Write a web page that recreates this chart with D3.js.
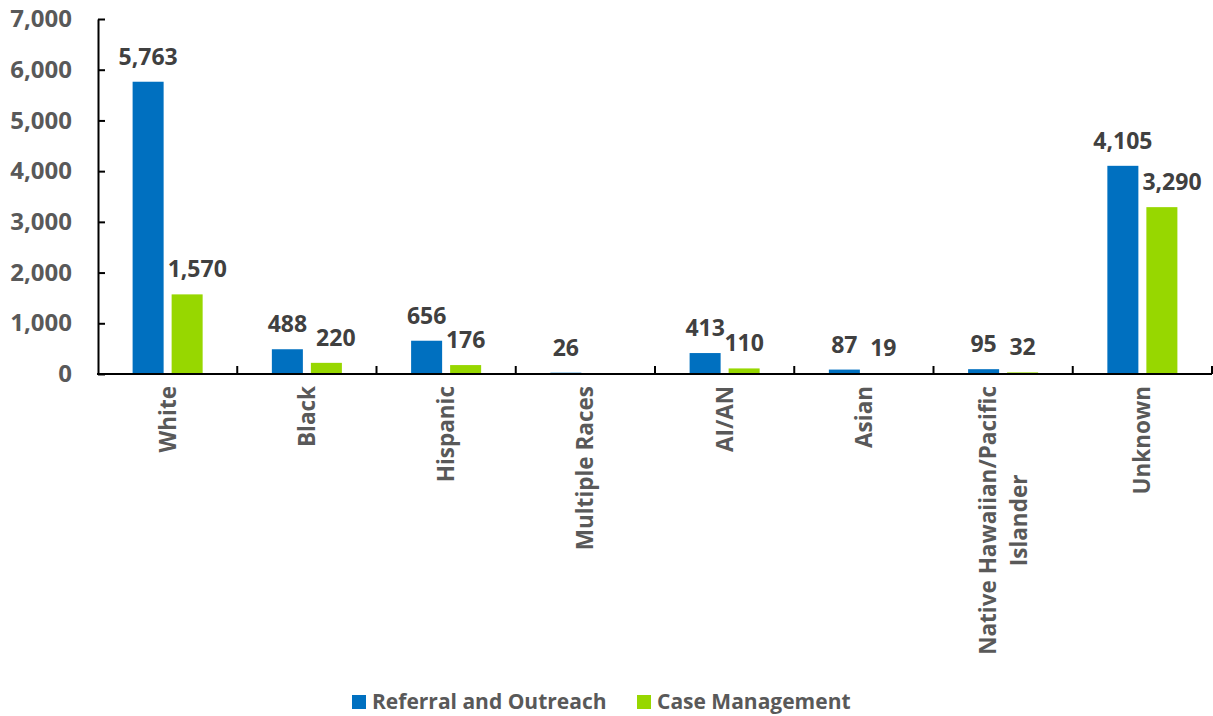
<!DOCTYPE html>
<html>
<head>
<meta charset="utf-8">
<script src="https://cdn.jsdelivr.net/npm/d3@7"></script>
<style>
  html, body { margin: 0; padding: 0; background: #fff; }
  svg { display: block; font-family: "Open Sans", "Noto Sans", sans-serif; font-weight: bold; }
</style>
</head>
<body>
<svg id="chart" width="1213" height="716"></svg>
<script>
const categories = ["White", "Black", "Hispanic", "Multiple Races", "AI/AN", "Asian", "Native Hawaiian/Pacific\nIslander", "Unknown"];
const seriesNames = ["Referral and Outreach", "Case Management"];
const referralOutreach = [5763, 488, 656, 26, 413, 87, 95, 4105];
const caseManagement = [1570, 220, 176, null, 110, 19, 32, 3290];
const yTicks = [0, 1000, 2000, 3000, 4000, 5000, 6000, 7000];
const colors = ["#0070C0", "#97D700"];

const svg = d3.select("#chart");
const pLeft = 98, pRight = 1212, pTop = 19, pBottom = 374;
const labelFs = 23;

const x = d3.scaleBand().domain(categories).range([pLeft, pRight]).paddingInner(0).paddingOuter(0);
const x1 = d3.scaleBand().domain(seriesNames).range([0, x.bandwidth()]).paddingInner(0.205).paddingOuter(0.887);
const y = d3.scaleLinear().domain([0, 7000]).range([pBottom, pTop]);
const fmt = d3.format(",");

// bars and labels
const seriesData = [referralOutreach, caseManagement];
const barGroup = svg.append("g");
const labelGroup = svg.append("g");
const placed = {};
seriesNames.forEach((s, si) => {
  const vals = seriesData[si];
  categories.forEach((c, ci) => {
    const v = vals[ci];
    if (v == null) return;
    const bx = x(c) + x1(s), by = y(v), bw = x1.bandwidth();
    barGroup.append("rect")
      .attr("x", bx).attr("y", by).attr("width", bw).attr("height", y(0) - by)
      .attr("fill", colors[si]);
    const t = labelGroup.append("text")
      .attr("x", bx + bw / 2)
      .attr("y", by - 17)
      .attr("text-anchor", "middle")
      .attr("font-size", labelFs)
      .attr("fill", "#404040")
      .text(fmt(v));
    const w = t.node().getComputedTextLength();
    const box = {x0: bx + bw / 2 - w / 2, x1: bx + bw / 2 + w / 2, y0: by - 17 - 0.72 * labelFs, y1: by - 17};
    if (si === 0) {
      placed[c] = {label: box, bar: {x0: bx, x1: bx + bw, y0: by, y1: y(0)}};
    } else if (placed[c]) {
      const p = placed[c];
      let shift = 0;
      const vOv = (a, b) => Math.min(a.y1, b.y1) - Math.max(a.y0, b.y0);
      if (vOv(box, p.bar) > 0 && box.x0 < p.bar.x1 + 2) shift = Math.max(shift, p.bar.x1 + 4 - box.x0);
      if (vOv(box, p.label) > 2.5 && box.x0 < p.label.x1 + 6) shift = Math.max(shift, p.label.x1 + 9 - box.x0);
      if (shift > 0) t.attr("x", bx + bw / 2 + shift);
    }
  });
});

// y axis
const yAxis = d3.axisLeft(y).tickValues(yTicks).tickFormat(fmt).tickSizeInner(-7).tickSizeOuter(0).tickPadding(26);
const yg = svg.append("g").attr("transform", `translate(${pLeft},0)`).call(yAxis);
yg.select(".domain").attr("stroke", "#000").attr("stroke-width", 2);
yg.selectAll(".tick line").attr("stroke", "#000").attr("stroke-width", 2);
yg.selectAll(".tick text").attr("font-size", 24).attr("fill", "#595959").attr("font-family", "Open Sans").attr("font-weight", "bold");

// x axis line
svg.append("line").attr("x1", pLeft - 1).attr("x2", pRight).attr("y1", pBottom).attr("y2", pBottom)
  .attr("stroke", "#000").attr("stroke-width", 2);
// boundary ticks
const bounds = categories.map(c => x(c)).concat([x.range()[1]]);
svg.selectAll(".xtick").data(bounds.slice(1)).enter().append("line")
  .attr("x1", d => d).attr("x2", d => d).attr("y1", pBottom).attr("y2", pBottom - 8)
  .attr("stroke", "#000").attr("stroke-width", 2);

// category labels (rotated)
categories.forEach(c => {
  const lines = c.split("\n");
  const cx = x(c) + x.bandwidth() / 2;
  const g = svg.append("g");
  const lh = 31;
  const texts = lines.map((ln, i) => g.append("text")
    .attr("font-size", 22.5).attr("fill", "#595959").text(ln));
  const maxW = d3.max(texts, t => t.node().getComputedTextLength());
  const n = lines.length;
  texts.forEach((t, i) => {
    const off = (i - (n - 1) / 2) * lh;
    t.attr("text-anchor", "middle")
     .attr("transform", `translate(${cx + off + 8},${386 + maxW / 2}) rotate(-90)`);
  });
});

// legend
const legend = svg.append("g");
const legendItems = [{name: seriesNames[0], x: 352}, {name: seriesNames[1], x: 637}];
legendItems.forEach((it, i) => {
  legend.append("rect").attr("x", it.x).attr("y", 695).attr("width", 14).attr("height", 14).attr("fill", colors[i]);
  legend.append("text").attr("x", it.x + 20).attr("y", 709).attr("font-size", 21).attr("fill", "#595959").text(it.name);
});
</script>
</body>
</html>
